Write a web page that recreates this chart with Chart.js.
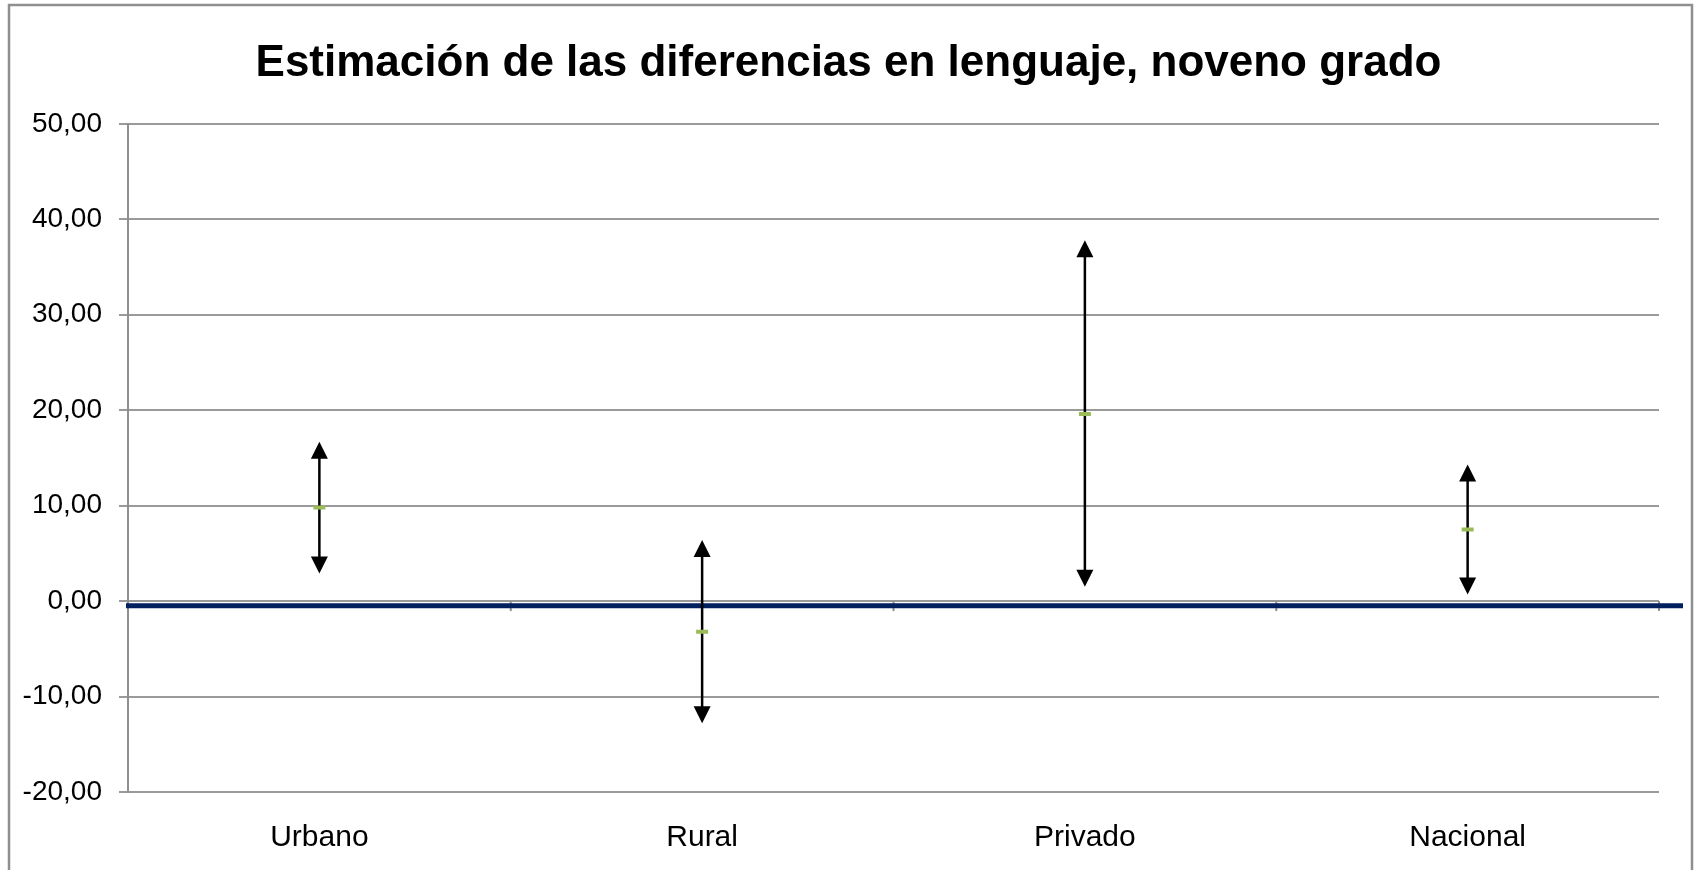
<!DOCTYPE html>
<html>
<head>
<meta charset="utf-8">
<title>Estimación de las diferencias en lenguaje, noveno grado</title>
<script src="https://cdn.jsdelivr.net/npm/chart.js@4.4.0/dist/chart.umd.min.js"></script>
<style>
	html, body { margin: 0; padding: 0; background: #fff; }
</style>
</head>
<body>
<canvas id="graficoDiferencias" width="1697" height="870"></canvas>
<script>
var categorias = ['Urbano', 'Rural', 'Privado', 'Nacional'];
var estimacion = [9.8, -3.2, 19.6, 7.5];
var limiteInferior = [2.9, -12.8, 1.5, 0.7];
var limiteSuperior = [16.7, 6.4, 37.8, 14.3];
var lineaReferencia = -0.5;
var ejeMin = -20;
var ejeMax = 50;
var ejePaso = 10;

var Grafico = Grafico || {};

Grafico.Diferencias = (function() {

	var gris = '#8f8f8f';

	function Diferencias() {
		this.ctx = document.getElementById('graficoDiferencias').getContext('2d');
	}

	// marco, linea de referencia, marcas del eje en cero y flechas
	var flechas = {
		id: 'flechas',
		beforeDatasetsDraw: function(chart) {
			var ctx = chart.ctx;
			var area = chart.chartArea;
			var x = chart.scales.x;
			var y = chart.scales.y;
			var y0 = y.getPixelForValue(0);

			ctx.save();
			ctx.strokeStyle = gris;
			ctx.lineWidth = 2;
			for (var i = 0; i <= categorias.length; i++) {
				var px = x.getPixelForValue(i - 0.5);
				ctx.beginPath();
				ctx.moveTo(px, y0);
				ctx.lineTo(px, y0 + 10);
				ctx.stroke();
			}

			var yr = y.getPixelForValue(lineaReferencia);
			ctx.strokeStyle = '#002060';
			ctx.lineWidth = 5;
			ctx.beginPath();
			ctx.moveTo(area.left - 2, yr);
			ctx.lineTo(area.right + 24, yr);
			ctx.stroke();

			ctx.strokeStyle = '#000';
			ctx.fillStyle = '#000';
			ctx.lineWidth = 2.5;
			for (var j = 0; j < categorias.length; j++) {
				var cx = x.getPixelForValue(j);
				var yt = y.getPixelForValue(limiteSuperior[j]);
				var yb = y.getPixelForValue(limiteInferior[j]);
				ctx.beginPath();
				ctx.moveTo(cx, yt + 12);
				ctx.lineTo(cx, yb - 12);
				ctx.stroke();

				ctx.beginPath();
				ctx.moveTo(cx, yt);
				ctx.lineTo(cx - 8.5, yt + 17);
				ctx.lineTo(cx + 8.5, yt + 17);
				ctx.closePath();
				ctx.fill();

				ctx.beginPath();
				ctx.moveTo(cx, yb);
				ctx.lineTo(cx - 8.5, yb - 17);
				ctx.lineTo(cx + 8.5, yb - 17);
				ctx.closePath();
				ctx.fill();
			}
			ctx.restore();
		},
		afterDraw: function(chart) {
			var ctx = chart.ctx;
			ctx.save();
			ctx.strokeStyle = gris;
			ctx.lineWidth = 2.5;
			ctx.strokeRect(9, 5, 1683, 900);
			ctx.restore();
		}
	};

	Diferencias.prototype.init = function() {
		new Chart(this.ctx, {
			type: 'line',
			data: {
				labels: categorias,
				datasets: [{
					label: 'Estimación',
					data: estimacion,
					showLine: false,
					pointStyle: 'line',
					pointRadius: 6,
					pointBorderWidth: 4,
					pointBorderColor: '#9bbb59',
					pointBackgroundColor: '#9bbb59'
				}]
			},
			options: {
				responsive: false,
				animation: false,
				events: [],
				layout: { padding: 0 },
				plugins: {
					legend: { display: false },
					tooltip: { enabled: false },
					title: {
						display: true,
						text: 'Estimación de las diferencias en lenguaje, noveno grado',
						color: '#000',
						font: { family: 'Liberation Sans', size: 44, weight: 'bold' },
						padding: { top: 37, bottom: 34 }
					}
				},
				scales: {
					x: {
						offset: true,
						grid: { display: false, drawTicks: false },
						border: { display: false },
						ticks: {
							color: '#000',
							padding: 28,
							font: { family: 'Liberation Sans', size: 30 }
						},
						afterFit: function(s) { s.height = 78; }
					},
					y: {
						min: ejeMin,
						max: ejeMax,
						grid: { color: '#9a9a9a', lineWidth: 2, tickLength: 9 },
						border: { display: true, color: gris, width: 2 },
						ticks: {
							stepSize: ejePaso,
							color: '#000',
							padding: 17,
							font: { family: 'Liberation Sans', size: 28 },
							callback: function(v) { return v.toFixed(2).replace('.', ','); }
						},
						afterFit: function(s) { s.width = 128; }
					},
					margen: {
						type: 'linear',
						position: 'right',
						min: ejeMin,
						max: ejeMax,
						grid: { display: false, drawTicks: false },
						border: { display: false },
						ticks: { display: false },
						afterFit: function(s) { s.width = 38; }
					}
				}
			},
			plugins: [flechas]
		});
	};

	return Diferencias;

}());

var graficoDiferencias = new Grafico.Diferencias();
graficoDiferencias.init();
</script>
</body>
</html>
